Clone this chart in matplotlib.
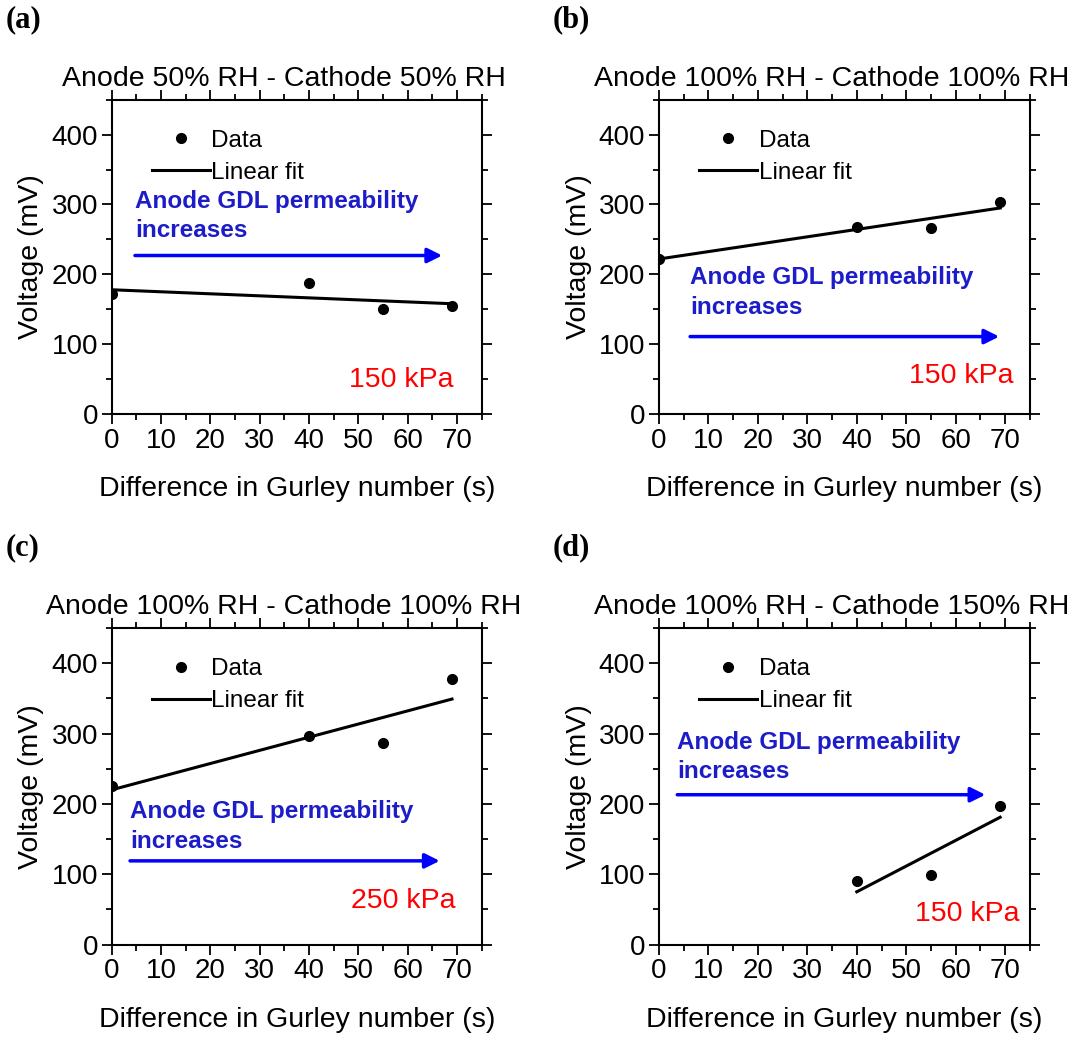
import numpy as np
import matplotlib
matplotlib.use("Agg")
import matplotlib.pyplot as plt
from matplotlib.ticker import MultipleLocator

plt.rcParams['font.family'] = ['Liberation Sans', 'DejaVu Sans']

# data
titles = ["Anode 50% RH - Cathode 50% RH",
          "Anode 100% RH - Cathode 100% RH",
          "Anode 100% RH - Cathode 100% RH",
          "Anode 100% RH - Cathode 150% RH"]
panel_tags = ["(a)", "(b)", "(c)", "(d)"]
pressures = ["150 kPa", "150 kPa", "250 kPa", "150 kPa"]

gurley_a = [0, 40, 55, 69]
volt_a = [172, 188, 150, 155]
fit_a = [178, 158]

gurley_b = [0, 40, 55, 69]
volt_b = [222, 268, 267, 304]
fit_b = [222, 295]

gurley_c = [0, 40, 55, 69]
volt_c = [226, 297, 286, 377]
fit_c = [220, 349]

gurley_d = [40, 55, 69]
volt_d = [90, 99, 197]
fit_d = [75, 181]

fit_x = [[0, 69], [0, 69], [0, 69], [40, 69]]

# annotation placement (data coords)
note_x = [4.7, 6.3, 3.7, 3.7]
arrow_end = [67.0, 68.8, 66.5, 66.0]
arrow_y = [227, 111, 119, 213]
note_y = [284, 174, 168, 267]
kpa_x = [69.2, 71.6, 69.8, 73.0]
kpa_y = [49, 55, 62, 43]

xs = [gurley_a, gurley_b, gurley_c, gurley_d]
ys = [volt_a, volt_b, volt_c, volt_d]
fits = [fit_a, fit_b, fit_c, fit_d]

fig = plt.figure(figsize=(10.75, 10.38), dpi=100)
boxes = [[0.104, 0.601, 0.344, 0.303],
         [0.613, 0.601, 0.345, 0.303],
         [0.104, 0.090, 0.344, 0.305],
         [0.613, 0.090, 0.345, 0.305]]

for i in range(4):
    ax = fig.add_axes(boxes[i])
    ax.plot(xs[i], ys[i], 'o', color='black', ms=7, label='Data', zorder=3)
    ax.plot(fit_x[i], fits[i], '-', color='black', lw=2.2, label='Linear fit')
    ax.set_xlim(0, 75)
    ax.set_ylim(0, 450)
    ax.xaxis.set_major_locator(MultipleLocator(10))
    ax.xaxis.set_minor_locator(MultipleLocator(5))
    ax.yaxis.set_major_locator(MultipleLocator(100))
    ax.yaxis.set_minor_locator(MultipleLocator(50))
    ax.tick_params(which='both', direction='out', top=True, right=True, width=1.3)
    ax.tick_params(which='major', length=7, labelsize=20, pad=3)
    ax.tick_params(which='minor', length=4)
    for s in ax.spines.values():
        s.set_linewidth(1.5)
    ax.set_xlabel("Difference in Gurley number (s)", fontsize=20.5, labelpad=16)
    ax.set_ylabel("Voltage (mV)", fontsize=20.5, labelpad=5)
    ax.set_title(titles[i], fontsize=20.5, pad=10, x=0.466)
    ax.legend(loc='upper left', bbox_to_anchor=(0.108, 0.905), frameon=False,
              fontsize=17.5, handlelength=2.4, handletextpad=0.05, labelspacing=0.42,
              borderaxespad=0, borderpad=0)
    ax.text(note_x[i], note_y[i], "Anode GDL permeability\nincreases", color='#1c1cc8',
            fontsize=17.5, fontweight='bold', va='center', ha='left', linespacing=1.35)
    ax.annotate("", xy=(arrow_end[i], arrow_y[i]), xytext=(note_x[i], arrow_y[i]),
                arrowprops=dict(arrowstyle='-|>', color='blue', lw=2.5,
                                mutation_scale=22, shrinkA=0, shrinkB=0))
    ax.text(kpa_x[i], kpa_y[i], pressures[i], color='red', fontsize=20.5,
            ha='right', va='center')
    b = boxes[i]
    fig.text(0.005 + (b[0] - 0.104), b[1] + b[3] + 0.077, panel_tags[i], fontsize=22,
             fontweight='bold', family='Liberation Serif', va='center')

fig.savefig("out.png", dpi=100)
